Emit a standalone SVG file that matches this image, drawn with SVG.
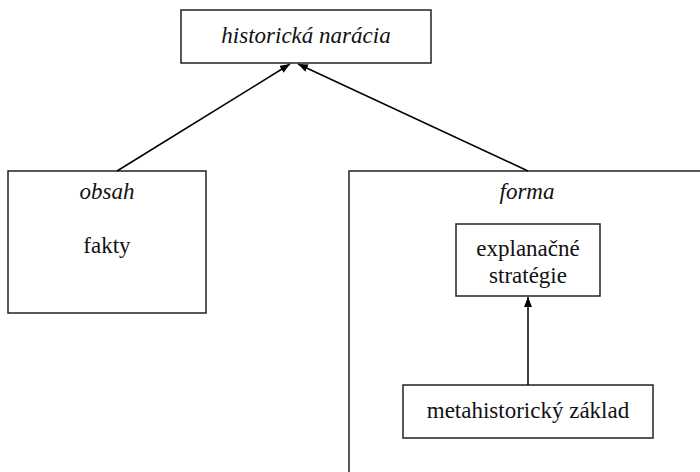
<svg xmlns="http://www.w3.org/2000/svg" width="700" height="472" viewBox="0 0 700 472">
<defs>
<marker id="ah" viewBox="0 0 10 8" refX="10" refY="4" markerWidth="10" markerHeight="8" markerUnits="userSpaceOnUse" orient="auto"><path d="M0,0 L10,4 L0,8 Z" fill="#000"/></marker>
<style>
.box{fill:#fff;stroke:#222;stroke-width:1.5}
.t{font-family:"Liberation Serif","DejaVu Serif",serif;font-size:23px;fill:#111;text-anchor:middle}
.i{font-style:italic}
.c{stroke:#000;stroke-width:1.5;fill:none;marker-end:url(#ah)}
</style>
</defs>
<rect width="700" height="472" fill="#fff"/>
<g id="historicka-naracia">
<rect class="box" x="181" y="10" width="250" height="53"/>
<text class="t i" x="306" y="43">historická narácia</text>
</g>
<g id="obsah">
<rect class="box" x="8" y="171" width="198" height="142"/>
<text class="t i" x="107" y="199">obsah</text>
<text class="t" x="107" y="253">fakty</text>
</g>
<g id="forma">
<path class="box" d="M349,472 L349,171 L701,171"/>
<text class="t i" x="527" y="199">forma</text>
</g>
<g id="explanacne-strategie">
<rect class="box" x="456" y="224" width="144" height="72"/>
<text class="t" x="528" y="256">explanačné</text>
<text class="t" x="528" y="283">stratégie</text>
</g>
<g id="metahistoricky-zaklad">
<rect class="box" x="403" y="385" width="250" height="53"/>
<text class="t" x="528" y="418">metahistorický základ</text>
</g>
<g id="connectors">
<line class="c" x1="117" y1="171" x2="290" y2="64"/>
<line class="c" x1="528" y1="171" x2="298" y2="64"/>
<line class="c" x1="528" y1="385" x2="528" y2="297"/>
</g>
</svg>
